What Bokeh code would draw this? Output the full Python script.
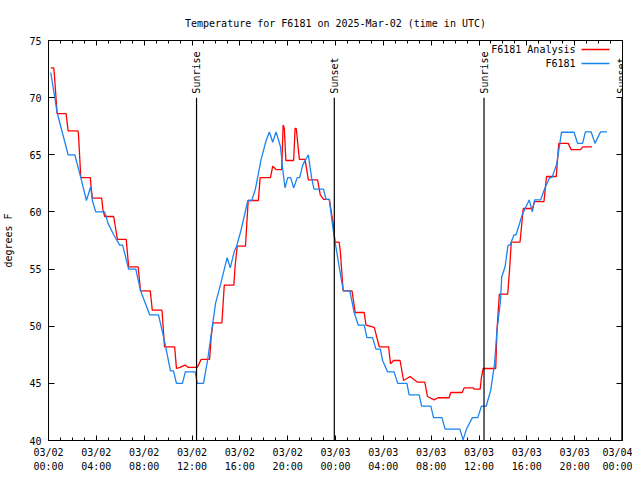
import math
from datetime import datetime, timedelta

from bokeh.plotting import figure
from bokeh.models import (Range1d, FixedTicker, DatetimeTickFormatter, LinearAxis,
                          DatetimeAxis, Label, Arrow, ColumnDataSource)
from bokeh.embed import file_html
from bokeh.resources import INLINE

START = datetime(2025, 3, 2)
EPOCH = datetime(1970, 1, 1)

# ---- data (hours after 2025-03-02 00:00 UTC, degrees F) ----
analysis_hours = [0.19, 0.44, 0.5, 0.72, 1.47, 1.64, 2.45, 2.5, 2.7, 3.5, 3.55, 3.67, 4.45, 4.55, 4.7,
                  5.45, 5.76, 6.5, 6.7, 7.49, 7.7, 8.51, 8.68, 9.49, 9.7, 10.55, 10.7, 11.0, 11.4, 11.7,
                  12.44, 12.77, 13.47, 13.6, 13.75, 14.5, 14.7, 15.5, 15.6, 15.78, 16.47, 16.7, 17.55,
                  17.7, 18.56, 18.75, 19.03, 19.5, 19.62, 19.72, 19.85, 20.5, 20.62, 20.72, 20.98, 21.45,
                  21.73, 22.5, 22.73, 23.0, 23.48, 23.8, 23.96, 24.3, 24.4, 24.64, 25.38, 25.65, 26.4,
                  26.55, 27.24, 27.66, 28.44, 28.6, 28.85, 29.4, 29.69, 30.24, 30.86, 31.47, 31.69,
                  32.25, 32.58, 33.5, 33.64, 34.6, 34.75, 35.5, 35.6, 36.1, 36.2, 36.35, 37.4, 37.5,
                  37.7, 38.4, 38.56, 38.7, 39.43, 39.7, 40.46, 40.65, 41.43, 41.65, 42.46, 42.67, 43.46,
                  43.71, 44.49, 44.68, 45.46]
analysis_temps = [72.6, 72.6, 71.9, 68.6, 68.6, 67.1, 67.1, 66.9, 63.0, 63.0, 62.3, 61.2, 61.2, 60.2, 59.6,
                  59.6, 57.6, 57.6, 55.2, 55.2, 53.1, 53.1, 51.4, 51.4, 48.2, 48.2, 46.3, 46.4, 46.6, 46.4,
                  46.4, 47.1, 47.1, 49.0, 50.3, 50.3, 53.6, 53.6, 55.2, 57.0, 57.0, 61.0, 61.0,
                  63.0, 63.0, 64.0, 63.7, 63.7, 67.6, 67.3, 64.5, 64.5, 67.3, 67.3, 64.6, 64.6,
                  62.8, 62.8, 61.5, 61.1, 61.1, 59.0, 57.35, 57.35, 56.6, 53.1, 53.1, 51.2, 51.2,
                  50.1, 49.9, 48.2, 48.2, 46.7, 47.0, 47.0, 45.25, 45.6, 45.1, 45.1, 43.85,
                  43.56, 43.74, 43.74, 44.2, 44.2, 44.6, 44.6, 44.5, 44.5, 45.5, 46.3, 46.3, 49.6,
                  52.8, 52.8, 55.0, 57.35, 57.35, 60.3, 60.3, 60.9, 60.9, 63.1, 63.1, 66.0, 66.0,
                  65.45, 65.45, 65.7, 65.7]

station_hours = [0.19, 0.72, 1.64, 2.2, 2.7, 3.17, 3.53, 3.67, 3.95, 4.7, 4.98, 5.45, 5.95, 6.2, 6.7, 7.3,
                 7.7, 8.46, 9.2, 9.7, 10.2, 10.45, 10.7, 11.2, 11.44, 12.27, 12.44, 12.96, 13.3, 13.75,
                 13.97, 14.4, 14.94, 15.2, 15.55, 15.7, 16.1, 16.67, 17.0, 17.3, 17.78, 18.2, 18.47,
                 18.75, 19.03, 19.4, 19.6, 19.78, 20.0, 20.25, 20.5, 20.8, 21.0, 21.26, 21.73, 22.0,
                 22.2, 23.0, 23.2, 23.48, 23.77, 24.04, 24.5, 24.66, 25.2, 25.56, 25.9, 26.4, 26.63,
                 27.1, 27.38, 27.75, 27.94, 28.36, 28.9, 29.2, 29.97, 30.16, 31.0, 31.2, 31.97, 32.2,
                 32.9, 33.17, 34.4, 34.67, 34.95, 35.45, 35.9, 36.2, 36.6, 36.98, 37.3, 37.5, 37.8,
                 37.9, 38.18, 38.43, 38.6, 38.93, 39.1, 39.63, 40.2, 40.46, 40.65, 41.15, 41.48, 41.9,
                 42.1, 42.5, 42.9, 43.95, 44.24, 44.66, 44.9, 45.38, 45.7, 46.16, 46.7]
station_temps = [72.2, 68.7, 65.0, 65.0, 63.0, 61.0, 62.2, 61.0, 60.0, 60.0, 59.0, 58.0, 57.1, 57.1, 55.0, 55.0,
                 53.1, 51.0, 51.0, 48.7, 46.1, 46.1, 45.0, 45.0, 46.0, 46.0, 45.0, 45.0, 47.0, 50.35,
                 52.0, 53.7, 56.0, 55.1, 56.6, 56.9, 58.4, 61.0, 61.0, 62.0, 64.6, 66.25, 67.0,
                 66.1, 67.0, 65.7, 63.6, 62.1, 63.0, 63.0, 62.1, 63.0, 63.0, 64.1, 65.0, 63.0,
                 62.0, 62.0, 61.1, 61.1, 58.7, 56.9, 54.0, 53.1, 53.1, 51.2, 50.1, 50.1, 49.0,
                 49.0, 48.0, 48.0, 47.0, 46.0, 46.0, 45.0, 45.0, 44.0, 44.0, 43.0, 43.0, 42.0,
                 42.0, 41.0, 41.0, 40.05, 41.0, 42.0, 42.0, 43.0, 43.0, 44.4, 46.7, 49.6, 52.25,
                 54.3, 55.2, 57.1, 57.1, 58.0, 58.0, 59.8, 61.05, 60.0, 61.05, 61.05, 62.0, 63.0,
                 63.0, 64.2, 66.97, 66.97, 66.0, 66.0, 67.0, 67.0, 66.0, 67.0, 67.0]

event_hours = [12.38, 23.9, 36.42, 47.95]
event_labels = ["Sunrise", "Sunset", "Sunrise", "Sunset"]

x_tick_hours = list(range(0, 49, 4))
x_minor_hours = list(range(0, 49, 1))
y_ticks = [40, 45, 50, 55, 60, 65, 70, 75]

series_names = ["F6181 Analysis", "F6181"]
series_colors = ["#ff0000", "#1a84f0"]


def to_dt(hours):
    return [START + timedelta(hours=h) for h in hours]


def to_ms(hours):
    return [((START + timedelta(hours=h)) - EPOCH).total_seconds() * 1000.0 for h in hours]


MONO = "DejaVu Sans Mono"

p = figure(width=632, height=476, output_backend="svg", toolbar_location=None,
           x_axis_type="datetime",
           x_range=Range1d(START, START + timedelta(hours=48)),
           y_range=Range1d(40, 75),
           min_border_left=47, min_border_right=10, min_border_top=40, min_border_bottom=36)

p.title.text = "Temperature for F6181 on 2025-Mar-02 (time in UTC)"
p.title.align = "center"
p.title.text_font = MONO
p.title.text_font_size = "10px"
p.title.text_font_style = "normal"
p.title.text_color = "black"
p.title.standoff = 24

p.grid.visible = False
p.outline_line_color = "black"
p.outline_line_width = 1
p.background_fill_color = "white"
p.border_fill_color = "white"

fmt = "%m/%d\n%H:%M"
formatter = DatetimeTickFormatter(microseconds=fmt, milliseconds=fmt, seconds=fmt, minsec=fmt,
                                  minutes=fmt, hourmin=fmt, hours=fmt, days=fmt, months=fmt, years=fmt,
                                  strip_leading_zeros=False)
xticker = FixedTicker(ticks=to_ms(x_tick_hours), minor_ticks=to_ms(x_minor_hours))
yticker = FixedTicker(ticks=y_ticks, minor_ticks=[])

for ax in p.xaxis:
    ax.ticker = xticker
    ax.formatter = formatter
    ax.major_tick_in = 5
    ax.major_tick_out = 0
    ax.minor_tick_in = 3
    ax.minor_tick_out = 0
    ax.axis_line_color = "black"
    ax.major_label_text_font = MONO
    ax.major_label_text_font_size = "10px"
    ax.major_label_text_color = "black"
    ax.major_label_text_line_height = 1.35
    ax.major_label_standoff = 6

for ax in p.yaxis:
    ax.ticker = yticker
    ax.major_tick_in = 6
    ax.major_tick_out = 0
    ax.minor_tick_in = 0
    ax.minor_tick_out = 0
    ax.axis_line_color = "black"
    ax.major_label_text_font = MONO
    ax.major_label_text_font_size = "10px"
    ax.major_label_text_color = "black"
    ax.major_label_standoff = 7
    ax.axis_label = "degrees F"
    ax.axis_label_text_font = MONO
    ax.axis_label_text_font_size = "10px"
    ax.axis_label_text_font_style = "normal"
    ax.axis_label_text_color = "black"
    ax.axis_label_standoff = 12

top = DatetimeAxis(ticker=xticker, formatter=formatter, major_tick_in=5, major_tick_out=0,
                   minor_tick_in=3, minor_tick_out=0, major_label_text_font_size="0px",
                   major_label_standoff=0, axis_line_color="black")
p.add_layout(top, "above")
right = LinearAxis(ticker=yticker, major_tick_in=6, major_tick_out=0, minor_tick_in=0,
                   minor_tick_out=0, major_label_text_font_size="0px", major_label_standoff=0,
                   axis_line_color="black")
p.add_layout(right, "right")

# data lines
src_a = ColumnDataSource(dict(t=to_dt(analysis_hours), v=analysis_temps))
src_s = ColumnDataSource(dict(t=to_dt(station_hours), v=station_temps))
p.line("t", "v", source=src_a, line_color=series_colors[0], line_width=1.3)
p.line("t", "v", source=src_s, line_color=series_colors[1], line_width=1.3)

# sunrise / sunset markers
src_e = ColumnDataSource(dict(t=to_dt(event_hours), lab=event_labels,
                              y0=[40] * len(event_hours), y1=[70.0] * len(event_hours)))
p.segment(x0="t", y0="y0", x1="t", y1="y1", source=src_e, line_color="black", line_width=1.2)
for t, lab in zip(to_ms(event_hours), event_labels):
    p.add_layout(Label(x=t, y=70.35, text=lab, angle=math.pi / 2, text_align="left",
                       text_baseline="middle", text_font=MONO, text_font_size="10px",
                       text_color="black"))

# legend (gnuplot style: text left, sample right)
for i, (name, col) in enumerate(zip(series_names, series_colors)):
    ys = 391 - 14 * i
    p.add_layout(Label(x=527, y=ys, x_units="screen", y_units="screen", text=name,
                       text_align="right", text_baseline="middle", text_font=MONO,
                       text_font_size="10px", text_color="black"))
    p.add_layout(Arrow(x_start=533, y_start=ys, x_end=561, y_end=ys, start_units="screen",
                       end_units="screen", end=None, line_color=col, line_width=1.3))

open("out.html", "w").write(file_html(p, INLINE))
